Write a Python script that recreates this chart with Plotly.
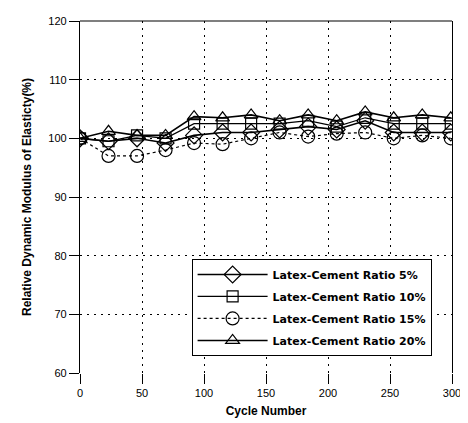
import plotly.graph_objects as go

cycles = [0, 23, 46, 69, 92, 115, 138, 161, 184, 207, 230, 253, 276, 299]
ratio_5 = [100, 99.5, 100, 99.2, 100.5, 101, 101, 101.5, 102, 101.5, 103, 101, 101, 101]
ratio_10 = [100, 99.5, 100.5, 100, 102.5, 102.5, 102.5, 102.5, 103, 102, 103.5, 102.5, 102.5, 102.5]
ratio_15 = [100, 97, 97, 98, 99.2, 99, 100, 101, 100.3, 100.8, 101, 100, 100.5, 100]
ratio_20 = [100, 101.2, 100.5, 100.5, 103.7, 103.5, 104, 103, 104, 103, 104.5, 103.5, 104, 103.5]

names = ["Latex-Cement Ratio 5%", "Latex-Cement Ratio 10%",
         "Latex-Cement Ratio 15%", "Latex-Cement Ratio 20%"]
series = [ratio_5, ratio_10, ratio_15, ratio_20]
symbols = ["diamond-open", "square-open", "circle-open", "triangle-up-open"]
sizes = [13, 11, 13, 12]
dashes = ["solid", "solid", "dot", "solid"]
widths = [1.6, 1.2, 1.2, 1.6]

fig = go.Figure()
for i, (n, s, sym, sz, d, w) in enumerate(zip(names, series, symbols, sizes, dashes, widths)):
    fig.add_trace(go.Scatter(
        x=cycles, y=s, name="<b>" + n + "</b>", mode="lines+markers",
        legendgroup="g%d" % i,
        line=dict(color="black", width=w, dash=d),
        marker=dict(symbol=sym, size=sz, color="black", line=dict(width=1.2, color="black")),
    ))

font = "Liberation Sans, Arial, sans-serif"
# the page body adds an 8px margin, so the figure is sized to fit inside it
fig.update_layout(
    width=460, height=415,
    margin=dict(l=72, r=13, t=7, b=50),
    paper_bgcolor="white", plot_bgcolor="white",
    font=dict(family=font, size=11, color="black"),
    showlegend=True,
    legend=dict(
        x=0.30, y=0.324, xanchor="left", yanchor="top",
        bgcolor="white", bordercolor="black", borderwidth=1,
        font=dict(family="DejaVu Sans, sans-serif", size=11, color="black"),
        itemwidth=70, tracegroupgap=3,
    ),
    xaxis=dict(
        range=[0, 300], dtick=50, tick0=0,
        showgrid=True, gridcolor="black", gridwidth=1, griddash="2px,5px",
        showline=False, zeroline=False,
        ticks="outside", ticklen=10, tickcolor="black", tickwidth=1,
        tickfont=dict(family=font, size=11, color="black"),
        title=dict(text="<b>Cycle Number</b>", font=dict(family=font, size=12), standoff=8),
    ),
    yaxis=dict(
        range=[60, 120], dtick=10, tick0=60,
        showgrid=True, gridcolor="black", gridwidth=1, griddash="2px,5px",
        showline=True, linecolor="black", linewidth=1.2, mirror=True,
        zeroline=False,
        ticks="outside", ticklen=10, tickcolor="black", tickwidth=1,
        tickfont=dict(family=font, size=11, color="black"),
        title=dict(text="<b>Relative Dynamic Modulus of Elasticty(%)</b>",
                   font=dict(family=font, size=12), standoff=14),
    ),
    shapes=[dict(type="line", xref="paper", yref="paper", x0=0, x1=1, y0=1, y1=1,
                 line=dict(color="black", width=1.2))],
)

fig.write_html("out.html")
